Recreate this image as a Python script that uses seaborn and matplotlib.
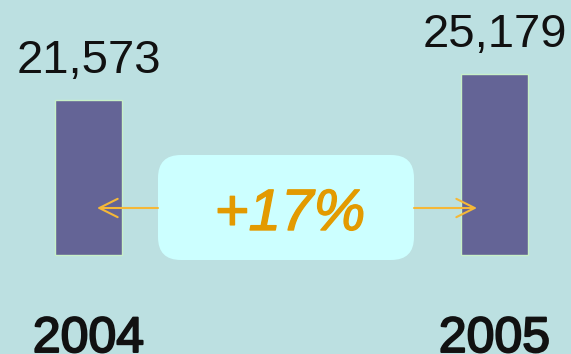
import matplotlib
matplotlib.use("Agg")
import matplotlib.pyplot as plt
import matplotlib.patheffects as pe
import seaborn as sns
import pandas as pd
from matplotlib.patches import FancyBboxPatch

years = ["2004", "2005"]
values = [21573, 25179]
change_label = "+17%"

BG = "#BCE0E1"
BAR = "#646496"
BAR_EDGE = "#C8F0C8"
BOX = "#CCFFFF"
ORANGE = "#E39A00"
ARROW = "#F5B838"
TEXT = "#111111"

sns.set_theme(style="white")
plt.rcParams["font.family"] = ["Liberation Sans", "DejaVu Sans"]

W, H = 571, 354
fig = plt.figure(figsize=(W / 100, H / 100), dpi=100, facecolor=BG)
ax = fig.add_axes([0, 0, 1, 1])
ax.set_facecolor(BG)

df = pd.DataFrame({"year": years, "value": values})
sns.barplot(data=df, x="year", y="value", color=BAR, width=67 / 406,
            edgecolor=BAR_EDGE, linewidth=1, saturation=1, ax=ax)

# map pixel layout: bar centers at 88.5 and 494.5 px, baseline at 255 px
scale = 155 / values[0]
ax.set_xlim(-88.5 / 406, 1 + (W - 494.5) / 406)
ax.set_ylim(-(H - 255) / scale, 255 / scale)
ax.axis("off")

def px(x, y):
    return x / W, 1 - y / H

for i, v in enumerate(values):
    ax.annotate(f"{v:,}", xy=(i, v), xytext=(0, 27 * 0.72),
                textcoords="offset points", ha="center", va="baseline",
                fontsize=34, color=TEXT)
    ax.text(i, 2 / H, years[i], transform=ax.get_xaxis_transform(),
            ha="center", va="baseline", fontsize=36, color=TEXT,
            path_effects=[pe.withStroke(linewidth=1.4, foreground=TEXT)])

# rounded box
bx0, by0 = px(158, 260)
bx1, by1 = px(414, 155)
box = FancyBboxPatch((bx0, by0), bx1 - bx0, by1 - by0,
                     boxstyle="round,pad=0,rounding_size=0.04",
                     transform=ax.transAxes, facecolor=BOX, edgecolor="none",
                     mutation_aspect=W / H, zorder=3)
ax.add_patch(box)

ax.text(*px(290, 230), change_label, transform=ax.transAxes, ha="center",
        va="baseline", fontsize=42, fontstyle="italic", color=ORANGE, zorder=4,
        path_effects=[pe.withStroke(linewidth=1.0, foreground=ORANGE)])

# arrows
arrow_style = "->,head_length=1.1,head_width=0.55"
ax.annotate("", xy=px(97, 208), xytext=px(158, 208), xycoords="axes fraction",
            textcoords="axes fraction",
            arrowprops=dict(arrowstyle=arrow_style, color=ARROW, lw=1.5,
                            shrinkA=0, shrinkB=0), zorder=4)
ax.annotate("", xy=px(477, 208), xytext=px(414, 208), xycoords="axes fraction",
            textcoords="axes fraction",
            arrowprops=dict(arrowstyle=arrow_style, color=ARROW, lw=1.5,
                            shrinkA=0, shrinkB=0), zorder=4)

fig.savefig("out.png", dpi=100, facecolor=BG)
